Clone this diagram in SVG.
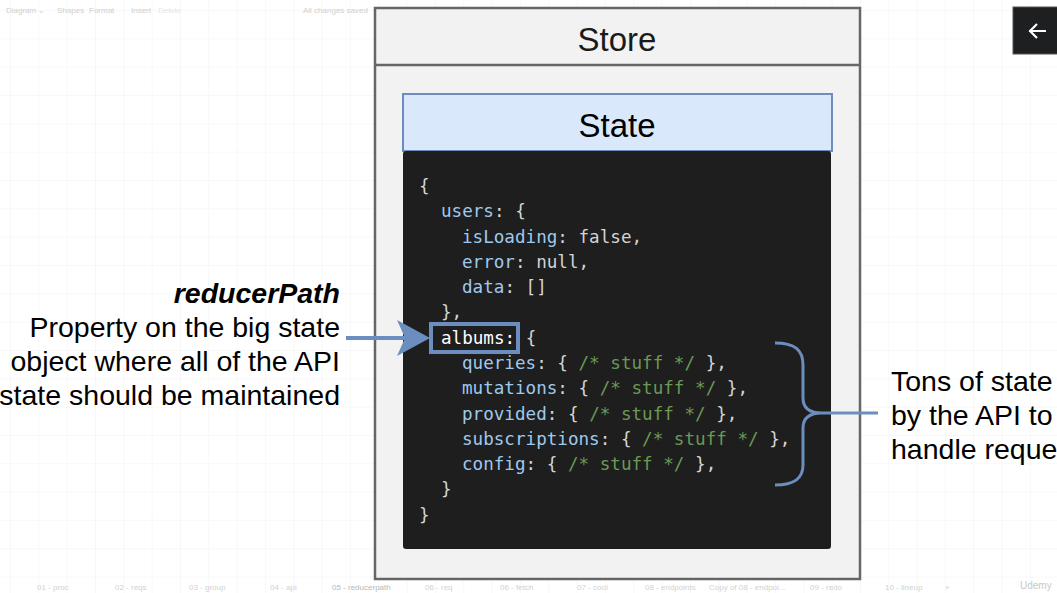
<svg xmlns="http://www.w3.org/2000/svg" width="1057" height="593" viewBox="0 0 1057 593">
<defs>
<pattern id="grid" x="10" y="10" width="28.33" height="28.33" patternUnits="userSpaceOnUse">
<path d="M28.33 0 L0 0 L0 28.33" fill="none" stroke="#f1f1f1" stroke-width="1"/>
</pattern>
<style>
.ui{font-family:"Liberation Sans",Arial,sans-serif;font-size:8px;fill:#cfcfcf}
.tab{font-family:"Liberation Sans",Arial,sans-serif;font-size:8px;fill:#d2d2d2}
.title{font-family:"Liberation Sans",Arial,sans-serif;font-size:33px;fill:#1a1a1a;text-anchor:middle}
.note{font-family:"Liberation Sans",Arial,sans-serif;font-size:28.5px;fill:#000}
.code{font-family:"DejaVu Sans Mono","Liberation Mono",monospace;font-size:17.6px;fill:#d4d4d4;white-space:pre}
.k{fill:#9fc9ec}
.c{fill:#6a9955}
.conn{fill:none;stroke:#6c8ebf}
</style>
</defs>
<rect width="1057" height="593" fill="#ffffff"/>
<rect width="1057" height="593" fill="url(#grid)"/>
<g id="toolbar">
<text class="ui" x="6" y="13">Diagram ⌄</text>
<text class="ui" x="57" y="13">Shapes</text>
<text class="ui" x="89" y="13">Format</text>
<text class="ui" x="131" y="13">Insert</text>
<text class="ui" x="158" y="13" style="fill:#e6e6e6">Delete</text>
<text class="ui" x="303" y="13">All changes saved</text>
</g>
<g id="store">
<rect x="375" y="8" width="485" height="571" fill="#f2f2f2" stroke="#666666" stroke-width="2.5"/>
<line x1="375" y1="65" x2="860" y2="65" stroke="#666666" stroke-width="2.5"/>
<text class="title" x="617" y="51">Store</text>
</g>
<g id="state">
<rect x="403" y="94" width="429" height="57" fill="#dae8fc" stroke="#6c8ebf" stroke-width="2"/>
<text class="title" x="617" y="137" style="fill:#000">State</text>
</g>
<g id="code">
<rect x="403" y="151" width="428" height="398" rx="3" fill="#1e1e1e"/>
<text class="code" x="419" y="192">{</text>
<text class="code" x="441" y="217"><tspan class="k">users</tspan>: {</text>
<text class="code" x="462" y="243"><tspan class="k">isLoading</tspan>: false,</text>
<text class="code" x="462" y="268"><tspan class="k">error</tspan>: null,</text>
<text class="code" x="462" y="293"><tspan class="k">data</tspan>: []</text>
<text class="code" x="441" y="318">},</text>
<text class="code" x="441" y="344"><tspan style="fill:#ffffff">albums:</tspan> {</text>
<text class="code" x="462" y="369"><tspan class="k">queries</tspan>: { <tspan class="c">/* stuff */</tspan> },</text>
<text class="code" x="462" y="394"><tspan class="k">mutations</tspan>: { <tspan class="c">/* stuff */</tspan> },</text>
<text class="code" x="462" y="420"><tspan class="k">provided</tspan>: { <tspan class="c">/* stuff */</tspan> },</text>
<text class="code" x="462" y="445"><tspan class="k">subscriptions</tspan>: { <tspan class="c">/* stuff */</tspan> },</text>
<text class="code" x="462" y="470"><tspan class="k">config</tspan>: { <tspan class="c">/* stuff */</tspan> },</text>
<text class="code" x="441" y="495">}</text>
<text class="code" x="419" y="521">}</text>
</g>
<g id="albums-highlight">
<rect x="431" y="324" width="87" height="28" fill="none" stroke="#6c8ebf" stroke-width="4"/>
</g>
<g id="reducerpath-note">
<text class="note" x="340" y="303" text-anchor="end" font-weight="bold" font-style="italic">reducerPath</text>
<text class="note" x="340" y="337" text-anchor="end">Property on the big state</text>
<text class="note" x="340" y="371" text-anchor="end">object where all of the API</text>
<text class="note" x="340" y="405" text-anchor="end">state should be maintained</text>
</g>
<g id="api-note">
<text class="note" x="891" y="391">Tons of state</text>
<text class="note" x="891" y="425">by the API to</text>
<text class="note" x="891" y="459">handle reque</text>
</g>
<g id="connectors">
<line class="conn" x1="346" y1="338" x2="405" y2="338" stroke-width="4"/>
<polygon points="397,320 430,338 397,356 405,338" fill="#6c8ebf"/>
<path class="conn" stroke-width="3" d="M775,343 C795,343 803,350 803,365 L803,398 C803,408 810,413 822,413 C810,413 803,418 803,428 L803,465 C803,478 795,485 775,485"/>
<line class="conn" stroke-width="3" x1="822" y1="413" x2="878" y2="413"/>
</g>
<g id="back-button">
<rect x="1013" y="7" width="46" height="47" fill="#1e1f21" stroke="#555" stroke-width="1"/>
<path d="M1030,31 L1046,31 M1037,24 L1030,31 L1037,38" fill="none" stroke="#ffffff" stroke-width="2.2"/>
</g>
<g id="tabs">
<text class="tab" x="37" y="590">01 - proc</text>
<text class="tab" x="115" y="590">02 - reqs</text>
<text class="tab" x="189" y="590">03 - group</text>
<text class="tab" x="270" y="590">04 - api</text>
<text class="tab" x="332" y="590" style="fill:#b8b8b8">05 - reducerpath</text>
<text class="tab" x="425" y="590">06 - req</text>
<text class="tab" x="500" y="590">06 - fetch</text>
<text class="tab" x="577" y="590">07 - cool</text>
<text class="tab" x="645" y="590">08 - endpoints</text>
<text class="tab" x="709" y="590">Copy of 08 - endpoi...</text>
<text class="tab" x="810" y="590">09 - redo</text>
<text class="tab" x="885" y="590">10 - lineup</text>
<text class="tab" x="945" y="590">+</text>
<text class="tab" x="1020" y="589" style="font-size:10px;fill:#c8c8c8">Udemy</text>
</g>
</svg>
